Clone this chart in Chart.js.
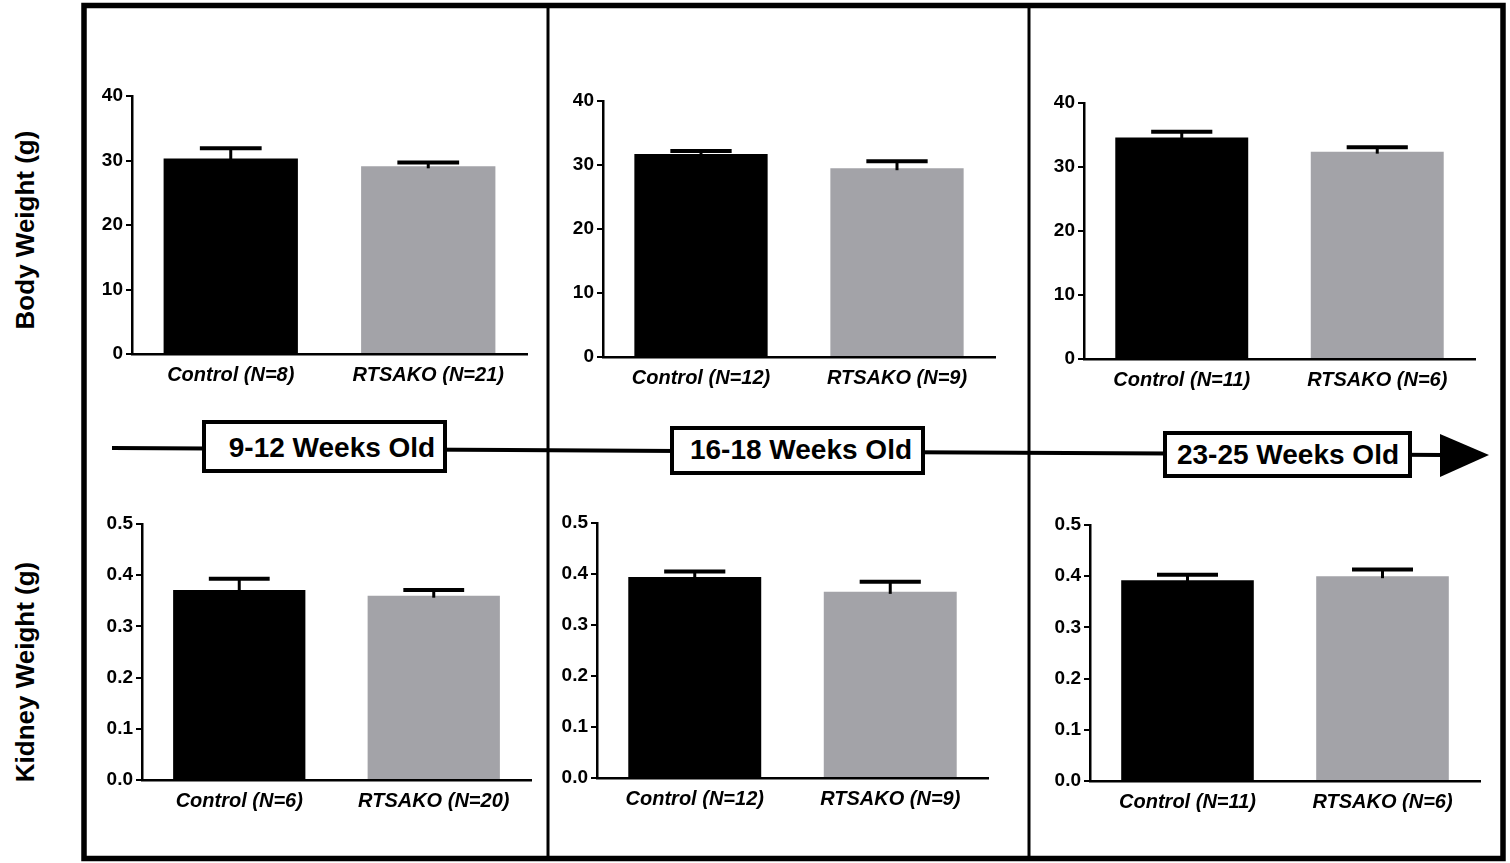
<!DOCTYPE html>
<html>
<head>
<meta charset="utf-8">
<script src="https://cdn.jsdelivr.net/npm/chart.js@4.4.1/dist/chart.umd.min.js"></script>
<style>
  html, body { margin: 0; padding: 0; background: #ffffff; }
  #root { position: relative; width: 1510px; height: 863px; overflow: hidden; background: #fff; }
  #frame { position: absolute; left: 0; top: 0; }
  canvas { position: absolute; }
</style>
</head>
<body>
<div id="root">
<svg id="frame" width="1510" height="863" xmlns="http://www.w3.org/2000/svg">
  <rect x="84" y="5.5" width="1419" height="853" fill="none" stroke="#000" stroke-width="5.5"/>
  <line x1="548" y1="5" x2="548" y2="859" stroke="#000" stroke-width="3"/>
  <line x1="1029" y1="5" x2="1029" y2="859" stroke="#000" stroke-width="3"/>
  <line x1="112" y1="448" x2="1444" y2="455" stroke="#000" stroke-width="4"/>
  <polygon points="1440,434 1489,455 1440,477" fill="#000"/>
  <g font-family="'Liberation Sans', Arial, sans-serif" font-weight="bold" font-size="28" fill="#000" text-anchor="middle">
    <rect x="204" y="422" width="241" height="49" fill="#fff" stroke="#000" stroke-width="4"/>
    <text id="age0" x="332" y="457"></text>
    <rect x="672" y="428" width="251" height="45" fill="#fff" stroke="#000" stroke-width="4"/>
    <text id="age1" x="801" y="459"></text>
    <rect x="1165" y="433" width="245" height="43" fill="#fff" stroke="#000" stroke-width="4"/>
    <text id="age2" x="1288" y="464"></text>
  </g>
  <g font-family="'Liberation Sans', Arial, sans-serif" font-weight="bold" font-size="26" fill="#000" text-anchor="middle">
    <text id="ytitle0" transform="translate(34,230) rotate(-90)"></text>
    <text id="ytitle1" transform="translate(34,672) rotate(-90)"></text>
  </g>
</svg>
</div>
<script>
// ---------------- DATA ----------------
const ageGroups = ['9-12 Weeks Old', '16-18 Weeks Old', '23-25 Weeks Old'];
const rowTitles = ['Body Weight (g)', 'Kidney Weight (g)'];

const bodyCategories = [
  ['Control (N=8)', 'RTSAKO (N=21)'],
  ['Control (N=12)', 'RTSAKO (N=9)'],
  ['Control (N=11)', 'RTSAKO (N=6)']
];
const bodyMeans = [
  [30.3, 29.1],
  [31.7, 29.5],
  [34.6, 32.4]
];
const bodyErrors = [
  [1.6, 0.6],
  [0.5, 1.1],
  [0.9, 0.7]
];
const bodyTicks = [0, 10, 20, 30, 40];

const kidneyCategories = [
  ['Control (N=6)', 'RTSAKO (N=20)'],
  ['Control (N=12)', 'RTSAKO (N=9)'],
  ['Control (N=11)', 'RTSAKO (N=6)']
];
const kidneyMeans = [
  [0.371, 0.360],
  [0.394, 0.365],
  [0.392, 0.400]
];
const kidneyErrors = [
  [0.022, 0.011],
  [0.011, 0.020],
  [0.011, 0.013]
];
const kidneyTicks = [0.0, 0.1, 0.2, 0.3, 0.4, 0.5];

const seriesColors = ['#000000', '#a3a3a8'];

// ---------------- LAYOUT (pixel geometry of each panel's axes) ----------------
const bodyLayout = [
  { axisX: 132, topY: 96, zeroY: 354, endX: 527 },
  { axisX: 603, topY: 101, zeroY: 357, endX: 995 },
  { axisX: 1084, topY: 103, zeroY: 359, endX: 1475 }
];
const kidneyLayout = [
  { axisX: 142, topY: 524, zeroY: 780, endX: 531 },
  { axisX: 597, topY: 523, zeroY: 778, endX: 988 },
  { axisX: 1090, topY: 525, zeroY: 781, endX: 1480 }
];
const Y_AXIS_W = 60, PAD_TOP = 20, X_AXIS_H = 45, PAD_RIGHT = 4;
const FONT = "'Liberation Sans', Arial, Helvetica, sans-serif";

// text in SVG
ageGroups.forEach((t, i) => { document.getElementById('age' + i).textContent = t; });
rowTitles.forEach((t, i) => { document.getElementById('ytitle' + i).textContent = t; });

// error bar plugin (upper SEM bar with cap)
const errorBarPlugin = {
  id: 'errorBars',
  afterDatasetsDraw(chart) {
    const ctx = chart.ctx;
    const yScale = chart.scales.y;
    chart.data.datasets.forEach((ds, di) => {
      const meta = chart.getDatasetMeta(di);
      meta.data.forEach((bar, i) => {
        const err = ds.errors[i];
        const yTop = yScale.getPixelForValue(ds.data[i] + err);
        const yBar = yScale.getPixelForValue(ds.data[i]);
        const half = bar.width * 0.23;
        ctx.save();
        ctx.strokeStyle = '#000';
        ctx.lineWidth = 3;
        ctx.beginPath();
        ctx.moveTo(bar.x, yBar + 2);
        ctx.lineTo(bar.x, yTop);
        ctx.stroke();
        ctx.lineWidth = 4;
        ctx.beginPath();
        ctx.moveTo(bar.x - half, yTop);
        ctx.lineTo(bar.x + half, yTop);
        ctx.stroke();
        ctx.restore();
      });
    });
  }
};

function makePanel(geom, cats, means, errs, ticks, fmt) {
  const canvas = document.createElement('canvas');
  const left = geom.axisX - Y_AXIS_W;
  const top = geom.topY - PAD_TOP;
  const w = geom.endX - geom.axisX + Y_AXIS_W + PAD_RIGHT;
  const h = geom.zeroY - geom.topY + PAD_TOP + X_AXIS_H;
  canvas.width = w; canvas.height = h;
  canvas.style.left = left + 'px';
  canvas.style.top = top + 'px';
  canvas.style.width = w + 'px';
  canvas.style.height = h + 'px';
  document.getElementById('root').appendChild(canvas);

  new Chart(canvas, {
    type: 'bar',
    data: {
      labels: cats,
      datasets: [{
        data: means,
        errors: errs,
        backgroundColor: seriesColors,
        borderWidth: 0,
        barPercentage: 0.68,
        categoryPercentage: 1.0
      }]
    },
    options: {
      responsive: false,
      animation: false,
      devicePixelRatio: 1,
      layout: { padding: { top: PAD_TOP, right: PAD_RIGHT, left: 0, bottom: 0 } },
      plugins: { legend: { display: false }, tooltip: { enabled: false }, title: { display: false } },
      scales: {
        x: {
          offset: true,
          grid: { display: false, drawTicks: false },
          border: { display: true, color: '#000', width: 2.5 },
          ticks: {
            color: '#000',
            padding: 9,
            maxRotation: 0,
            autoSkip: false,
            font: { family: FONT, size: 20, weight: 'bold', style: 'italic' }
          },
          afterFit: (s) => { s.height = X_AXIS_H; }
        },
        y: {
          min: ticks[0],
          max: ticks[ticks.length - 1],
          grid: { display: true, drawOnChartArea: false, drawTicks: true, tickLength: 6, color: '#000', lineWidth: 2 },
          border: { display: true, color: '#000', width: 2.5 },
          ticks: {
            color: '#000',
            padding: 3,
            font: { family: FONT, size: 19, weight: 'bold' },
            callback: (v) => fmt(v)
          },
          afterBuildTicks: (axis) => { axis.ticks = ticks.map(v => ({ value: v })); },
          afterFit: (s) => { s.width = Y_AXIS_W; }
        }
      }
    },
    plugins: [errorBarPlugin]
  });
}

for (let i = 0; i < 3; i++) {
  makePanel(bodyLayout[i], bodyCategories[i], bodyMeans[i], bodyErrors[i], bodyTicks, v => String(v));
  makePanel(kidneyLayout[i], kidneyCategories[i], kidneyMeans[i], kidneyErrors[i], kidneyTicks, v => v.toFixed(1));
}
</script>
</body>
</html>
